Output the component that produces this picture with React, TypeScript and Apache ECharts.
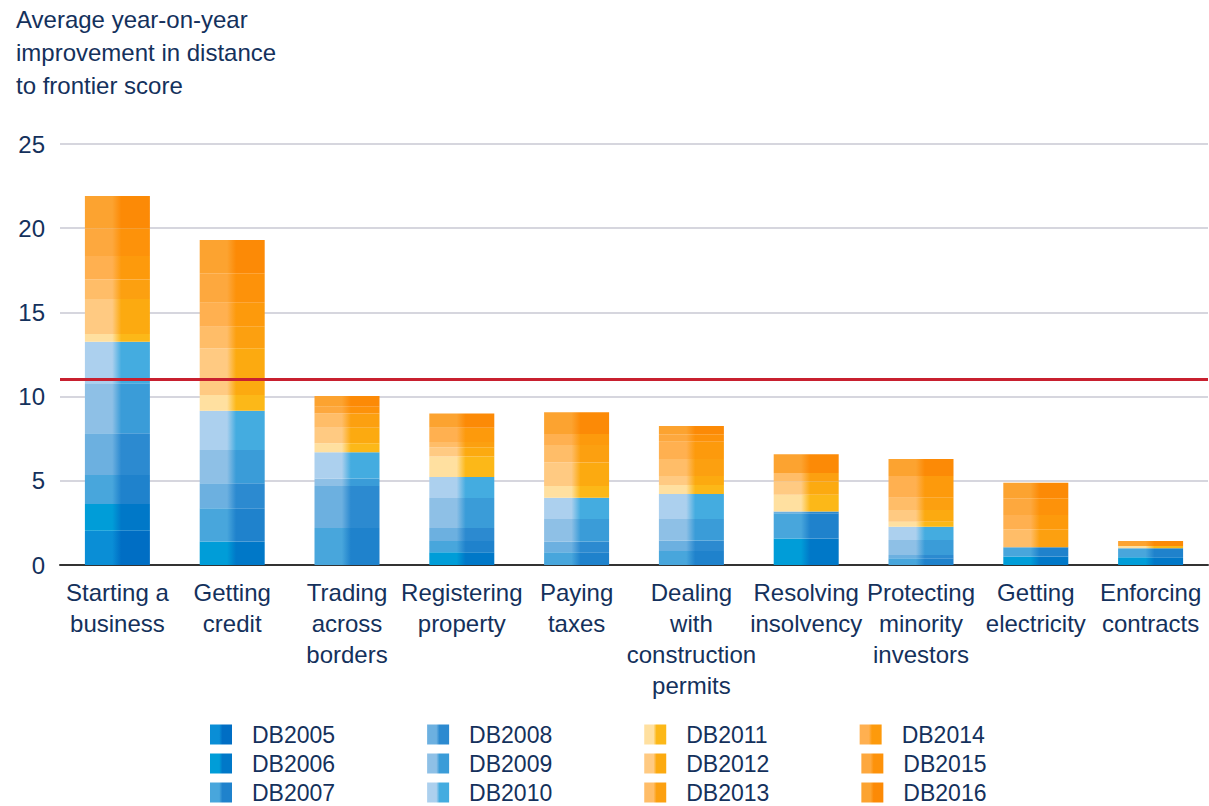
import React, { useEffect, useRef } from "react";
import * as echarts from "echarts";

const categories = [
  "Starting a\nbusiness",
  "Getting\ncredit",
  "Trading\nacross\nborders",
  "Registering\nproperty",
  "Paying\ntaxes",
  "Dealing\nwith\nconstruction\npermits",
  "Resolving\ninsolvency",
  "Protecting\nminority\ninvestors",
  "Getting\nelectricity",
  "Enforcing\ncontracts",
];

const seriesNames = [
  "DB2005", "DB2006", "DB2007", "DB2008", "DB2009", "DB2010",
  "DB2011", "DB2012", "DB2013", "DB2014", "DB2015", "DB2016",
];

const db2005 = [2.04, 0, 0, 0, 0, 0, 0, 0, 0, 0];
const db2006 = [1.58, 1.39, 0, 0.75, 0, 0, 1.58, 0, 0.5, 0.46];
const db2007 = [1.72, 1.98, 2.2, 0.67, 0.75, 0.83, 1.5, 0.4, 0.55, 0.53];
const db2008 = [2.48, 1.48, 2.49, 0.78, 0.64, 0.62, 0.1, 0.19, 0, 0];
const db2009 = [2.97, 1.98, 0.44, 1.78, 1.34, 1.28, 0, 0.89, 0, 0];
const db2010 = [2.47, 2.33, 1.56, 1.25, 1.27, 1.49, 0, 0.79, 0, 0];
const db2011 = [0.46, 0.94, 0.54, 1.22, 0.69, 0.53, 0.99, 0.3, 0, 0.14];
const db2012 = [2.08, 2.77, 0.92, 0.54, 1.39, 0.53, 0.79, 0.7, 0, 0];
const db2013 = [1.16, 1.28, 0.85, 0.31, 1.05, 1.01, 0.5, 0.73, 1.07, 0];
const db2014 = [1.39, 1.43, 0, 0.85, 0.65, 1.03, 0, 1.28, 0.85, 0];
const db2015 = [1.65, 1.74, 0.4, 0, 0, 0.45, 0, 0, 0.99, 0];
const db2016 = [1.91, 1.98, 0.63, 0.85, 1.29, 0.48, 1.12, 1.01, 0.93, 0.29];

const seriesValues = [
  db2005, db2006, db2007, db2008, db2009, db2010,
  db2011, db2012, db2013, db2014, db2015, db2016,
];

const legendRows = [
  ["DB2005", "DB2008", "DB2011", "DB2014"],
  ["DB2006", "DB2009", "DB2012", "DB2015"],
  ["DB2007", "DB2010", "DB2013", "DB2016"],
];

const averageLine = 11.05;
const yTicks = { min: 0, max: 25, interval: 5 };

const colorPairs: [string, string][] = [
  ["#0a8ed6", "#006ec4"],
  ["#009dd8", "#0078c8"],
  ["#48a6dc", "#1f82cc"],
  ["#6cb0e0", "#2c8ad0"],
  ["#8ec0e6", "#3a9cd8"],
  ["#acd0ee", "#44ace0"],
  ["#ffe0a0", "#fcb818"],
  ["#ffca82", "#fcaa10"],
  ["#ffbd68", "#fca010"],
  ["#ffb050", "#fd9a0c"],
  ["#fda83e", "#fd920a"],
  ["#fca330", "#fc8a06"],
];

const navy = "#14315c";
const FONT = "'Liberation Sans', Arial, sans-serif";

export default function App() {
  const ref = useRef<HTMLDivElement>(null);
  useEffect(() => {
    document.body.style.margin = "0";
    if (!ref.current) return;
    const chart = echarts.init(ref.current, undefined, { renderer: "svg" });
    const series: any[] = seriesNames.map((name, i) => {
      const [l, d] = colorPairs[i];
      const s: any = {
        name,
        type: "bar",
        stack: "total",
        barWidth: 65,
        data: seriesValues[i],
        itemStyle: {
          color: {
            type: "linear",
            x: 0, y: 0, x2: 1, y2: 0,
            colorStops: [
              { offset: 0, color: l },
              { offset: 0.42, color: l },
              { offset: 0.56, color: d },
              { offset: 1, color: d },
            ],
          },
        },
      };
      if (i === seriesNames.length - 1) {
        s.markLine = {
          silent: true,
          symbol: "none",
          label: { show: false },
          lineStyle: { color: "#c8202f", width: 3, type: "solid" },
          data: [{ yAxis: averageLine }],
        };
      }
      return s;
    });
    const legends = legendRows.map((row, r) => ({
      orient: "horizontal",
      left: 210,
      top: 723 + r * 29,
      padding: 0,
      icon: "rect",
      itemWidth: 22,
      itemHeight: 20,
      itemGap: 92,
      data: row,
      textStyle: {
        fontFamily: FONT,
        fontSize: 23,
        lineHeight: 20,
        color: navy,
        padding: [0, 0, 0, 15],
      },
    }));
    chart.setOption({
      animation: false,
      textStyle: { fontFamily: FONT },
      title: {
        text: "Average year-on-year\nimprovement in distance\nto frontier score",
        left: 16,
        top: 3,
        padding: 0,
        textStyle: {
          fontFamily: FONT,
          fontSize: 24,
          lineHeight: 33,
          fontWeight: "normal",
          color: navy,
        },
      },
      legend: legends,
      grid: { left: 60, right: 1, top: 144, bottom: 241, containLabel: false },
      xAxis: {
        type: "category",
        data: categories,
        axisLine: { lineStyle: { color: "#333333", width: 2 } },
        axisTick: { show: false },
        axisLabel: {
          interval: 0,
          fontFamily: FONT,
          fontSize: 24,
          lineHeight: 31,
          color: navy,
          margin: 12,
        },
      },
      yAxis: {
        type: "value",
        min: yTicks.min,
        max: yTicks.max,
        interval: yTicks.interval,
        axisLine: { show: false },
        axisTick: { show: false },
        axisLabel: { fontFamily: FONT, fontSize: 24, color: navy, margin: 15 },
        splitLine: { lineStyle: { color: "#c9c9d3", width: 1.5 } },
      },
      series,
    });
    return () => chart.dispose();
  }, []);
  return <div ref={ref} style={{ width: 1209, height: 806 }} />;
}
